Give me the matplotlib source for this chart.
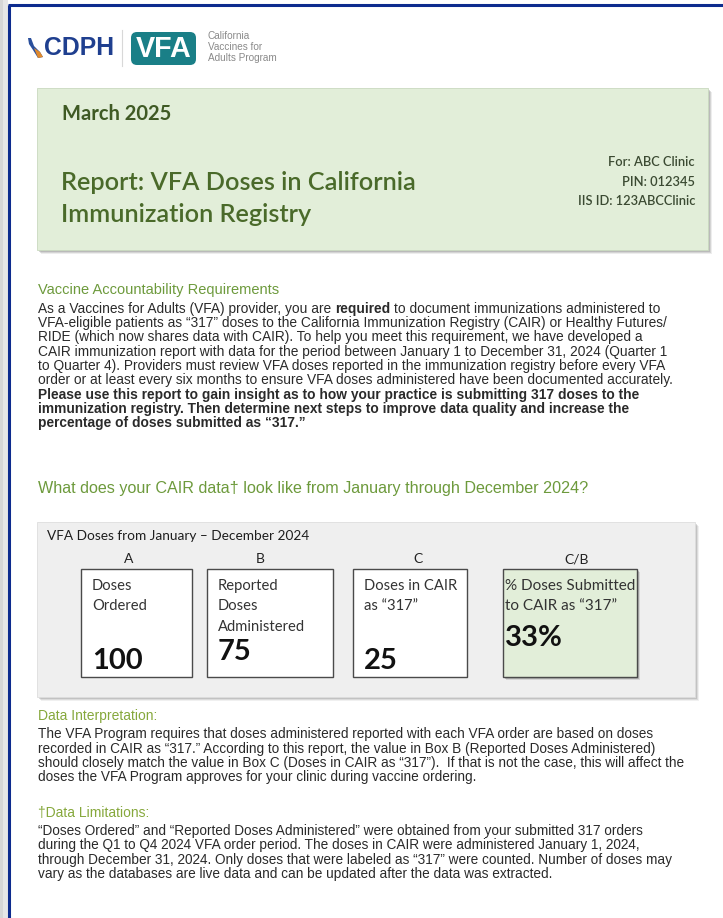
import matplotlib
matplotlib.use("Agg")
import matplotlib.pyplot as plt
from matplotlib.patches import Rectangle, FancyBboxPatch, Polygon

# ---- content ----
month = "March 2025"
title_lines = ["Report: VFA Doses in California", "Immunization Registry"]
clinic_lines = ["For: ABC Clinic", "PIN: 012345", "IIS ID: 123ABCClinic"]
logo_lines = ["California", "Vaccines for", "Adults Program"]

box_letters = ["A", "B", "C", "C/B"]
box_titles = [["Doses", "Ordered"],
              ["Reported", "Doses", "Administered"],
              ["Doses in CAIR", "as \u201c317\u201d"],
              ["% Doses Submitted", "to CAIR as \u201c317\u201d"]]
box_values = ["100", "75", "25", "33%"]

req_head = "Vaccine Accountability Requirements"
req_lines = [
    [("As a Vaccines for Adults (VFA) provider, you are", False), ("required", True),
     ("to document immunizations administered to", False)],
    [("VFA-eligible patients as \u201c317\u201d doses to the California Immunization Registry (CAIR) or Healthy Futures/", False)],
    [("RIDE (which now shares data with CAIR). To help you meet this requirement, we have developed a", False)],
    [("CAIR immunization report with data for the period between January 1 to December 31, 2024 (Quarter 1", False)],
    [("to Quarter 4). Providers must review VFA doses reported in the immunization registry before every VFA", False)],
    [("order or at least every six months to ensure VFA doses administered have been documented accurately.", False)],
    [("Please use this report to gain insight as to how your practice is submitting 317 doses to the", True)],
    [("immunization registry. Then determine next steps to improve data quality and increase the", True)],
    [("percentage of doses submitted as \u201c317.\u201d", True)],
]
question = "What does your CAIR data\u2020 look like from January through December 2024?"
panel_title = "VFA Doses from January \u2013 December 2024"

interp_head = "Data Interpretation:"
interp_lines = [
    "The VFA Program requires that doses administered reported with each VFA order are based on doses",
    "recorded in CAIR as \u201c317.\u201d According to this report, the value in Box B (Reported Doses Administered)",
    "should closely match the value in Box C (Doses in CAIR as \u201c317\u201d).  If that is not the case, this will affect the",
    "doses the VFA Program approves for your clinic during vaccine ordering.",
]
limit_head = "\u2020Data Limitations:"
limit_lines = [
    "\u201cDoses Ordered\u201d and \u201cReported Doses Administered\u201d were obtained from your submitted 317 orders",
    "during the Q1 to Q4 2024 VFA order period. The doses in CAIR were administered January 1, 2024,",
    "through December 31, 2024. Only doses that were labeled as \u201c317\u201d were counted. Number of doses may",
    "vary as the databases are live data and can be updated after the data was extracted.",
]

ARIAL = ["Liberation Sans", "DejaVu Sans"]
CAL = ["Lato", "DejaVu Sans"]

fig = plt.figure(figsize=(7.23, 9.18), dpi=100)
ax = fig.add_axes([0, 0, 1, 1])
ax.set_xlim(0, 723)
ax.set_ylim(918, 0)
ax.axis("off")
r = fig.canvas.get_renderer()


def put(x, y, s, size, color="#222222", family=ARIAL, weight="normal", ha="left", width=None):
    t = ax.text(x, y, s, fontsize=size, color=color, family=family, fontweight=weight, ha=ha, va="center")
    if width:
        w = t.get_window_extent(r).width
        t.set_fontsize(size * width / w)
    return t


def textw(s, size, family=ARIAL, weight="normal"):
    t = ax.text(0, 0, s, fontsize=size, family=family, fontweight=weight)
    w = t.get_window_extent(r).width
    t.remove()
    return w


def fitsize(s, width, family=ARIAL, weight="normal"):
    return 9 * width / textw(s, 9, family, weight)


def paragraph(x, y0, step, lines, size, color="#2a2a2a"):
    sp = textw("a a", size) - textw("aa", size)
    for i, parts in enumerate(lines):
        xx = x
        for txt, bold in parts:
            t = ax.text(xx, y0 + i * step, txt, fontsize=size, color=color, family=ARIAL,
                        fontweight="bold" if bold else "normal", va="center")
            xx += t.get_window_extent(r).width + sp


# page shadow and border
ax.add_patch(Rectangle((0, 0), 8, 918, color="#d6d6d6", lw=0))
ax.add_patch(Rectangle((3, 0), 5, 918, color="#e6e6e6", lw=0))
ax.plot([9, 9], [5, 918], color="#0d2b8e", lw=2.2, solid_capstyle="butt")
ax.plot([8, 723], [5, 5], color="#0d2b8e", lw=2.2, solid_capstyle="butt")

# logo
ax.add_patch(Polygon([(28, 38), (31, 38), (34, 46), (40, 52), (43, 57), (38, 58), (33, 50), (29, 44)],
                     closed=True, color="#2a4f9c", lw=0))
ax.add_patch(Polygon([(34, 48), (40, 52), (43, 57), (38, 58)], closed=True, color="#e08a2c", lw=0))
put(44, 48, "CDPH", 18, color="#1f3f8f", family=ARIAL, weight="bold", width=70)
ax.plot([122, 122], [30, 66], color="#d8d8d8", lw=0.8)
ax.add_patch(FancyBboxPatch((131, 32), 65, 33, boxstyle="round,pad=0,rounding_size=6",
                            fc="#1a7f87", ec="none"))
put(164, 49, "VFA", 16, color="white", family=ARIAL, weight="bold", ha="center", width=56)
for i, s in enumerate(logo_lines):
    put(208, 36 + i * 11, s, 7.2, color="#8a8a8a", family=ARIAL)

# header box
for k, a in [(4, 0.15), (3, 0.25), (2, 0.35)]:
    ax.add_patch(Rectangle((37 + k, 88 + k), 671, 162, fc="#8a8a8a", alpha=a, lw=0))
ax.add_patch(Rectangle((37, 88), 671, 162, fc="#e2eed9", ec="#c9d9bf", lw=0.6))
put(62, 114, month, 11, color="#3f5a24", family=CAL, weight="bold", width=110)
tsize = fitsize(title_lines[0], 358, CAL, "semibold")
put(61, 183, title_lines[0], tsize, color="#4a6a2a", family=CAL, weight="semibold")
put(61, 214, title_lines[1], tsize, color="#4a6a2a", family=CAL, weight="semibold")
csize = fitsize(clinic_lines[2], 118, CAL, "semibold")
for i, s in enumerate(clinic_lines):
    put(695, 162 + i * 19.5, s, csize, color="#3b4a32", family=CAL, weight="semibold", ha="right")

# requirements
put(38, 290, req_head, 10.5, color="#6d9a3c", family=ARIAL)
size1 = fitsize(req_lines[1][0][0], 632)
paragraph(38, 309, 14.25, req_lines, size1)

put(38, 489, question, 11, color="#6d9a3c", family=ARIAL, width=550)

# panel
for k, a in [(4, 0.12), (3, 0.2), (2, 0.3)]:
    ax.add_patch(Rectangle((37 + k, 522 + k), 658, 175, fc="#8a8a8a", alpha=a, lw=0))
ax.add_patch(Rectangle((37, 522), 658, 175, fc="#efefef", ec="#dddddd", lw=0.6))
put(47, 536, panel_title, 8, color="#1e1e1e", family=CAL, width=262)

box_x = [(81, 192), (207, 333), (353, 467), (503, 637)]
letter_x = [129, 260, 418, 577]
box_fill = ["white", "white", "white", "#e2eed9"]
value_y = [661, 652, 661, 638]
bsize = fitsize(box_titles[2][0], 93, CAL)
gsize = fitsize(box_titles[3][0], 131, CAL)
for i, (x0, x1) in enumerate(box_x):
    if i == 3:
        for k, a in [(3, 0.2), (2, 0.35)]:
            ax.add_patch(Rectangle((x0 + k, 569 + k), x1 - x0, 108, fc="#707070", alpha=a, lw=0))
    ax.add_patch(Rectangle((x0, 569), x1 - x0, 108, fc=box_fill[i], ec="#4a4a4a", lw=1.0))
    put(letter_x[i], 559, box_letters[i], 10, color="#222222", family=CAL, ha="center")
    tx = x0 + (2 if i == 3 else 11)
    for j, s in enumerate(box_titles[i]):
        put(tx, 586 + j * 20.5, s, bsize if i < 3 else gsize, color="#333333", family=CAL)
    put(tx, value_y[i], box_values[i], 21, color="#111111", family=CAL, weight="bold")

# interpretation
put(38, 716, interp_head, 10, color="#86a83c", family=ARIAL)
size2 = fitsize(interp_lines[2], 650)
paragraph(38, 734, 14.5, [[(s, False)] for s in interp_lines], size2)

put(38, 813, limit_head, 10, color="#86a83c", family=ARIAL)
size3 = fitsize(limit_lines[2], 635)
paragraph(38, 831, 14.3, [[(s, False)] for s in limit_lines], size3)

fig.savefig("out.png", dpi=100)
